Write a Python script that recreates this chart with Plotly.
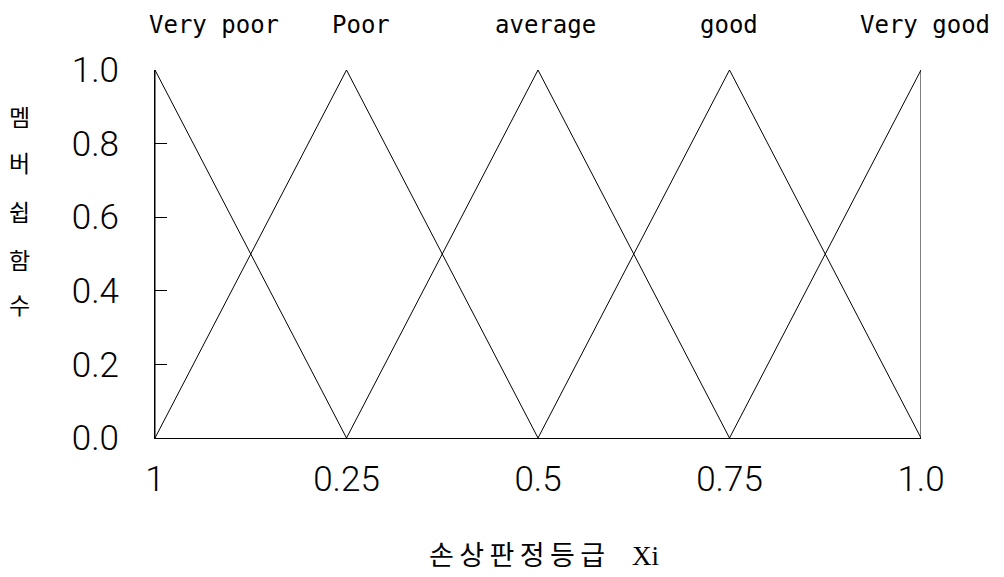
import plotly.graph_objects as go

# Data
grades = ["Very poor", "Poor", "average", "good", "Very good"]
vp_x = [0.0, 0.0, 0.25]
vp_y = [0.0, 1.0, 0.0]
poor_x = [0.0, 0.25, 0.5]
poor_y = [0.0, 1.0, 0.0]
avg_x = [0.25, 0.5, 0.75]
avg_y = [0.0, 1.0, 0.0]
good_x = [0.5, 0.75, 1.0]
good_y = [0.0, 1.0, 0.0]
vg_x = [0.75, 1.0, 1.0]
vg_y = [0.0, 1.0, 0.0]

x_tickvals = [0, 0.25, 0.5, 0.75, 1.0]
x_ticktext = ["1", "0.25", "0.5", "0.75", "1.0"]
y_tickvals = [0, 0.2, 0.4, 0.6, 0.8, 1.0]
y_ticktext = ["0.0", "0.2", "0.4", "0.6", "0.8", "1.0"]
ylabel_chars = ["멤", "버", "쉽", "함", "수"]
xlabel_chars = ["손", "상", "판", "정", "등", "급"]
xlabel_latin = "Xi"

series = [(vp_x, vp_y), (poor_x, poor_y), (avg_x, avg_y), (good_x, good_y), (vg_x, vg_y)]

# page offset (body margin) compensation
OFF = 8
W, H = 1004, 577
L_PX, R_PX, T_PX, B_PX = 155, 921, 70, 438  # plot area in page pixels
ml = L_PX - OFF
mt = T_PX - OFF
mr = W - (R_PX - OFF)
mb = H - (B_PX - OFF)
pw = R_PX - L_PX
ph = B_PX - T_PX


def px_x(xp):
    return (xp - L_PX) / pw


def px_y(yp):
    return 1 - (yp - T_PX) / ph


fig = go.Figure()
for (xs, ys), name in zip(series, grades):
    fig.add_trace(go.Scatter(x=xs, y=ys, mode="lines", name=name,
                             line=dict(color="black", width=1), cliponaxis=False,
                             showlegend=False, hoverinfo="skip"))

tick_font = dict(family="Roboto, DejaVu Sans Condensed, sans-serif", size=35,
                 color="black", weight=300)

fig.update_layout(
    width=W, height=H,
    margin=dict(l=ml, r=mr, t=mt, b=mb, autoexpand=False),
    plot_bgcolor="white", paper_bgcolor="white",
    xaxis=dict(range=[0, 1], showgrid=False, zeroline=False, showline=True,
               linecolor="black", linewidth=1, ticks="",
               tickvals=x_tickvals, ticktext=x_ticktext, tickfont=tick_font,
               ticklabelstandoff=10),
    yaxis=dict(range=[0, 1], showgrid=False, zeroline=False, showline=True,
               linecolor="black", linewidth=1, ticks="inside", ticklen=12,
               tickcolor="black", tickwidth=1,
               tickvals=y_tickvals, ticktext=y_ticktext, tickfont=tick_font,
               ticklabelstandoff=28),
)

# Top labels, left edges in page pixels
label_left_px = [147, 330, 493, 698, 858]
for g, lx in zip(grades, label_left_px):
    fig.add_annotation(x=px_x(lx), y=px_y(25), xref="paper", yref="paper",
                       xanchor="left", yanchor="middle", text=g, showarrow=False,
                       font=dict(family="DejaVu Sans Mono, monospace", size=24,
                                 color="black"))

# Y label stacked characters
char_y_px = [116, 162, 211, 259, 304]
for ch, ypx in zip(ylabel_chars, char_y_px):
    fig.add_annotation(x=px_x(19), y=px_y(ypx), xref="paper", yref="paper",
                       text=ch, showarrow=False, xanchor="center", yanchor="middle",
                       font=dict(family="Noto Sans CJK KR", size=23, color="black"))

# X label
xlabel = "\u2009".join(xlabel_chars) + "\u2002\u2002" + xlabel_latin
fig.add_annotation(x=px_x(544), y=px_y(556), xref="paper", yref="paper",
                   text=xlabel, showarrow=False, xanchor="center", yanchor="middle",
                   font=dict(family="Liberation Serif, Noto Sans CJK KR, serif",
                             size=27, color="black"))

fig.write_html("out.html")
